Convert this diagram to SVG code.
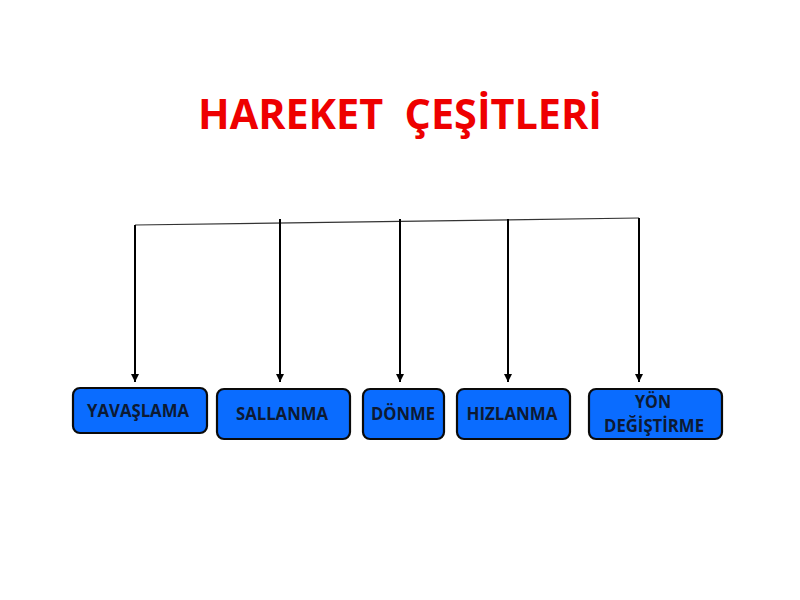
<svg xmlns="http://www.w3.org/2000/svg" width="800" height="600" viewBox="0 0 800 600">
<defs>
<marker id="ah" markerWidth="10" markerHeight="10" refX="8" refY="5" orient="auto" markerUnits="userSpaceOnUse">
<path d="M0,1 L8,5 L0,9 Z" fill="#000"/>
</marker>
<style>
.box{fill:#0A6CFF;stroke:#0a0a0a;stroke-width:2.2}
.lbl{font-family:"Open Sans","Liberation Sans",sans-serif;font-weight:bold;font-size:17px;fill:#0d1a33;text-anchor:middle}
.arr{stroke:#000;stroke-width:2;fill:none;marker-end:url(#ah)}
</style>
</defs>
<rect width="800" height="600" fill="#fff"/>
<text x="400" y="129" xml:space="preserve" textLength="404" lengthAdjust="spacingAndGlyphs" style="font-family:'Open Sans','Liberation Sans',sans-serif;font-weight:bold;font-size:41px;fill:#ee0000;text-anchor:middle">HAREKET  ÇEŞİTLERİ</text>
<g id="connectors">
<line x1="135" y1="225" x2="639" y2="218" stroke="#333" stroke-width="1.2"/>
<line class="arr" x1="135" y1="225" x2="135" y2="382"/>
<line class="arr" x1="280" y1="219" x2="280" y2="382"/>
<line class="arr" x1="400" y1="219" x2="400" y2="382"/>
<line class="arr" x1="508" y1="219" x2="508" y2="382"/>
<line class="arr" x1="639" y1="218" x2="639" y2="382"/>
</g>
<g id="yavaslama"><rect class="box" x="73" y="388" width="134" height="45" rx="7"/><text class="lbl" x="138" y="417" textLength="102" lengthAdjust="spacingAndGlyphs">YAVAŞLAMA</text></g>
<g id="sallanma"><rect class="box" x="217" y="389" width="133" height="50" rx="7"/><text class="lbl" x="282" y="420" textLength="92" lengthAdjust="spacingAndGlyphs">SALLANMA</text></g>
<g id="donme"><rect class="box" x="363" y="389" width="81" height="50" rx="7"/><text class="lbl" x="403" y="420" textLength="64" lengthAdjust="spacingAndGlyphs">DÖNME</text></g>
<g id="hizlanma"><rect class="box" x="457" y="389" width="113" height="50" rx="7"/><text class="lbl" x="512" y="420" textLength="91" lengthAdjust="spacingAndGlyphs">HIZLANMA</text></g>
<g id="yon"><rect class="box" x="589" y="389" width="133" height="50" rx="7"/><text class="lbl" x="653" y="408" textLength="36" lengthAdjust="spacingAndGlyphs">YÖN</text><text class="lbl" x="654" y="432" textLength="100" lengthAdjust="spacingAndGlyphs">DEĞİŞTİRME</text></g>
</svg>
